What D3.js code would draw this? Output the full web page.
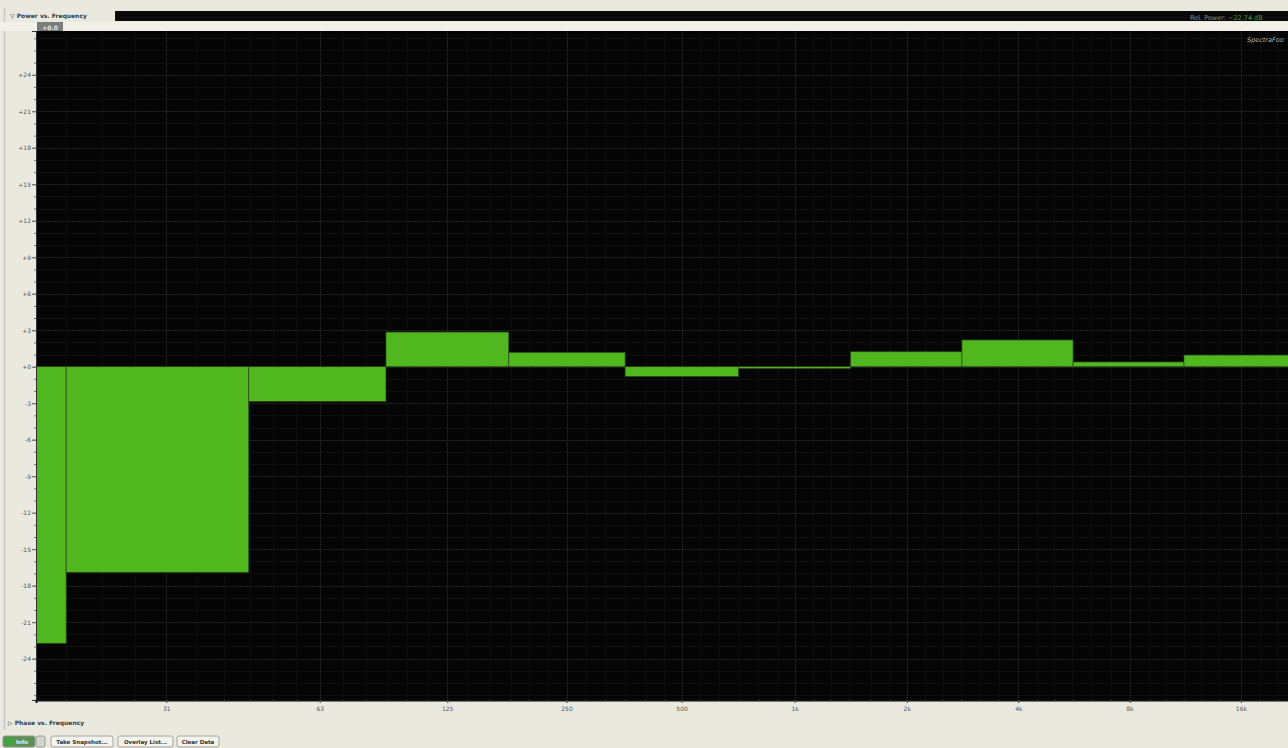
<!DOCTYPE html>
<html>
<head>
<meta charset="utf-8">
<script src="https://cdn.jsdelivr.net/npm/d3@7"></script>
<style>
  html, body { margin: 0; padding: 0; background: #e9e9e0; overflow: hidden; }
  svg { display: block; }
  text { font-family: "DejaVu Sans", "Liberation Sans", sans-serif; }
</style>
</head>
<body>
<svg id="chart" width="1288" height="748"></svg>
<script>
// Octave band edges (Hz) and relative power per band (dB)
const bandEdges = [11.2, 22.4, 44.7, 89.1, 178, 355, 708, 1413, 2818, 5623, 11220, 22390];
const bandPower = [-22.74, -16.9, -2.85, 2.85, 1.18, -0.8, -0.15, 1.23, 2.2, 0.39, 0.96];

// Frequency axis labels
const freqTicks = [31.5, 63, 125, 250, 500, 1000, 2000, 4000, 8000, 16000];
const freqLabels = ["31", "63", "125", "250", "500", "1k", "2k", "4k", "8k", "16k"];
// Sixth-octave minor tick frequencies
const freqMinor = [22.4, 25, 28, 31.5, 35.5, 40, 45, 50, 56, 63, 71, 80, 90, 100, 112, 125, 140, 160,
  180, 200, 224, 250, 280, 315, 355, 400, 450, 500, 560, 630, 710, 800, 900, 1000, 1120, 1250,
  1400, 1600, 1800, 2000, 2240, 2500, 2800, 3150, 3550, 4000, 4500, 5000, 5600, 6300, 7100,
  8000, 9000, 10000, 11200, 12500, 14000, 16000, 18000, 20000];

// Power axis labels (every 3 dB) and minor ticks (every 1 dB)
const dbTicks = [24, 21, 18, 15, 12, 9, 6, 3, 0, -3, -6, -9, -12, -15, -18, -21, -24];
const dbMinor = d3.range(-27, 28, 1);

const fMin = 20.6, fMax = 22000;
const warp = 11.9; // frequency offset used by the display's log warping

const svg = d3.select("#chart");
const W = 1288, H = 748;
const plot = { left: 36, right: 1292, top: 31, bottom: 700 };

const xLog = d3.scaleLog()
  .domain([fMin - warp, fMax - warp])
  .range([plot.left, plot.right]);
const x = f => xLog(Math.min(Math.max(f, fMin), fMax) - warp);

const y = d3.scaleLinear()
  .domain([-27.4, 27.6])
  .range([plot.bottom, plot.top]);

// Panel border line
svg.append("line")
  .attr("x1", 4.5).attr("x2", 4.5).attr("y1", 8).attr("y2", 730)
  .attr("stroke", "#c4c7c8").attr("stroke-width", 1.5);

// Header
svg.append("text")
  .attr("x", 10).attr("y", 18)
  .attr("font-size", 6).attr("font-weight", "bold").attr("fill", "#3a3a3a")
  .text("\u25BD Power vs. Frequency");

svg.append("rect")
  .attr("x", 115).attr("y", 11).attr("width", W - 115).attr("height", 10)
  .attr("fill", "#0a0a0a");

const readout = svg.append("text")
  .attr("x", 1190).attr("y", 19.5)
  .attr("font-size", 6.5)
  .attr("font-family", "DejaVu Sans Mono, Liberation Mono, monospace")
  .attr("fill", "#8e8e8e");
readout.append("tspan").text("Rel. Power: ");
readout.append("tspan").attr("fill", "#4e9e3a").text(d3.format(".2f")(bandPower[0]) + " dB");

svg.append("rect")
  .attr("x", 0).attr("y", 22).attr("width", W).attr("height", 9)
  .attr("fill", "#f1f1ea");

// Reference-level badge
svg.append("rect")
  .attr("x", 37).attr("y", 22).attr("width", 26).attr("height", 9)
  .attr("fill", "#7c7c78");
svg.append("text")
  .attr("x", 50).attr("y", 29.5).attr("text-anchor", "middle")
  .attr("font-size", 6).attr("font-weight", "bold").attr("fill", "#e8e8e8")
  .text("+0.0");

// Plot background
svg.append("rect")
  .attr("x", plot.left).attr("y", plot.top)
  .attr("width", plot.right - plot.left).attr("height", plot.bottom - plot.top)
  .attr("fill", "#040404");

svg.append("clipPath").attr("id", "plotClip")
  .append("rect")
  .attr("x", plot.left).attr("y", plot.top)
  .attr("width", plot.right - plot.left).attr("height", plot.bottom - plot.top);

const grid = svg.append("g").attr("clip-path", "url(#plotClip)");

// Minor grid
grid.selectAll("line.hmin").data(dbMinor).join("line")
  .attr("x1", plot.left).attr("x2", plot.right)
  .attr("y1", d => Math.round(y(d)) + 0.5).attr("y2", d => Math.round(y(d)) + 0.5)
  .attr("stroke", "#101010").attr("stroke-width", 1);
grid.selectAll("line.vmin").data(freqMinor).join("line")
  .attr("y1", plot.top).attr("y2", plot.bottom)
  .attr("x1", d => Math.round(x(d)) + 0.5).attr("x2", d => Math.round(x(d)) + 0.5)
  .attr("stroke", "#0d0d0d").attr("stroke-width", 1);

// Major grid
grid.selectAll("line.hmaj").data(dbTicks).join("line")
  .attr("x1", plot.left).attr("x2", plot.right)
  .attr("y1", d => Math.round(y(d)) + 0.5).attr("y2", d => Math.round(y(d)) + 0.5)
  .attr("stroke", "#222").attr("stroke-width", 1)
  .attr("stroke-dasharray", "2,1");
grid.selectAll("line.vmaj").data(freqTicks).join("line")
  .attr("y1", plot.top).attr("y2", plot.bottom)
  .attr("x1", d => Math.round(x(d)) + 0.5).attr("x2", d => Math.round(x(d)) + 0.5)
  .attr("stroke", "#222").attr("stroke-width", 1)
  .attr("stroke-dasharray", "2,1");

// Band bars
const bands = bandPower.map((v, i) => ({ lo: bandEdges[i], hi: bandEdges[i + 1], v }));
grid.selectAll("rect.band").data(bands).join("rect")
  .attr("class", "band")
  .attr("x", d => x(d.lo))
  .attr("width", d => x(d.hi) - x(d.lo))
  .attr("y", d => y(Math.max(d.v, 0)))
  .attr("height", d => Math.max(1.5, Math.abs(y(d.v) - y(0))))
  .attr("fill", "#50b81e")
  .attr("stroke", "#2a4a18").attr("stroke-width", 0.7);

// Spectrum analyser name
svg.append("text")
  .attr("x", 1247).attr("y", 42)
  .attr("font-size", 6.5).attr("font-style", "italic").attr("fill", "#b5b5b5")
  .text("SpectraFoo");

// Y axis
const yAxis = d3.axisLeft(y)
  .tickValues(dbTicks)
  .tickSize(4)
  .tickFormat(d => (d >= 0 ? "+" : "") + d);
const gy = svg.append("g").attr("transform", `translate(${plot.left},0)`).call(yAxis);
gy.select(".domain").attr("stroke", "#333");
gy.selectAll(".tick line").attr("stroke", "#555");
gy.selectAll(".tick text").attr("font-size", 6).attr("fill", "#555").attr("x", -5);

const yMinor = d3.axisLeft(y).tickValues(dbMinor).tickSize(2).tickFormat("");
const gym = svg.append("g").attr("transform", `translate(${plot.left},0)`).call(yMinor);
gym.select(".domain").remove();
gym.selectAll(".tick line").attr("stroke", "#777");

// X axis
const xAxisScale = d3.scaleLog().domain(xLog.domain()).range(xLog.range());
const xAxis = d3.axisBottom(xAxisScale)
  .tickValues(freqTicks.map(f => f - warp))
  .tickSize(3)
  .tickFormat((d, i) => freqLabels[i]);
const gx = svg.append("g").attr("transform", `translate(0,${plot.bottom})`).call(xAxis);
gx.select(".domain").attr("stroke", "#111").attr("stroke-width", 2);
gx.selectAll(".tick line").attr("stroke", "#444");
gx.selectAll(".tick text").attr("font-size", 6).attr("fill", "#555").attr("dy", "0.9em");

const xMinor = d3.axisBottom(xAxisScale)
  .tickValues(freqMinor.map(f => f - warp))
  .tickSize(2).tickFormat("");
const gxm = svg.append("g").attr("transform", `translate(0,${plot.bottom})`).call(xMinor);
gxm.select(".domain").remove();
gxm.selectAll(".tick line").attr("stroke", "#555");

// Collapsed phase panel
svg.append("text")
  .attr("x", 8).attr("y", 725)
  .attr("font-size", 6).attr("font-weight", "bold").attr("fill", "#3a3a3a")
  .text("\u25B7 Phase vs. Frequency");

// Bottom controls
const buttons = [
  { label: "Take Snapshot...", x: 51, w: 62 },
  { label: "Overlay List...", x: 118, w: 55 },
  { label: "Clear Data", x: 177, w: 42 }
];
svg.append("rect")
  .attr("x", 3).attr("y", 736).attr("width", 32).attr("height", 11).attr("rx", 2)
  .attr("fill", "#5f8f55").attr("stroke", "#8a9a88");
svg.append("rect")
  .attr("x", 5).attr("y", 738).attr("width", 8).attr("height", 7)
  .attr("fill", "#3aa83a");
svg.append("text")
  .attr("x", 22).attr("y", 744).attr("text-anchor", "middle")
  .attr("font-size", 5.5).attr("font-weight", "bold").attr("fill", "#e8e8e8")
  .text("Info");
svg.append("rect")
  .attr("x", 36).attr("y", 736).attr("width", 9).attr("height", 11).attr("rx", 2)
  .attr("fill", "#d5d5cf").attr("stroke", "#9a9a98");
const bg = svg.selectAll("g.btn").data(buttons).join("g").attr("class", "btn");
bg.append("rect")
  .attr("x", d => d.x).attr("y", 736).attr("width", d => d.w).attr("height", 11).attr("rx", 2)
  .attr("fill", "#f3f3ee").attr("stroke", "#a5a5a0");
bg.append("text")
  .attr("x", d => d.x + d.w / 2).attr("y", 744).attr("text-anchor", "middle")
  .attr("font-size", 5.5).attr("font-weight", "bold").attr("fill", "#333")
  .text(d => d.label);
</script>
</body>
</html>
